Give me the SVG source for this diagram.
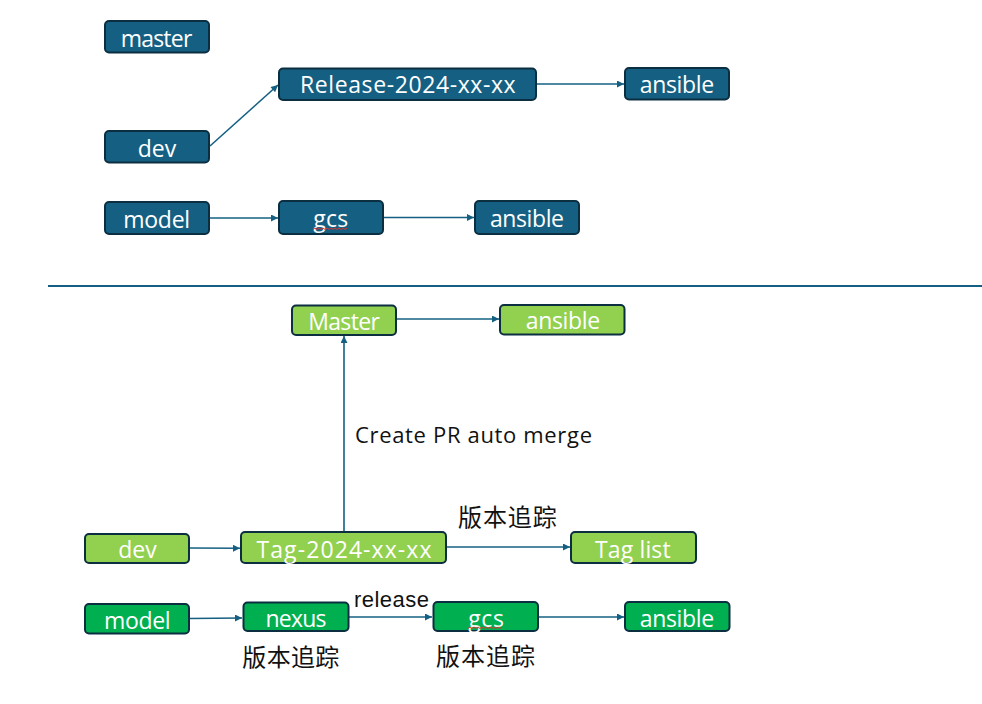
<svg xmlns="http://www.w3.org/2000/svg" width="982" height="704" viewBox="0 0 982 704">
<style>
.n rect{stroke:#0b2f41;stroke-width:2}
.b rect{fill:#156082}
.lg rect{fill:#92d050}
.g rect{fill:#00b050}
.n text{font-family:"Open Sans","Liberation Sans",sans-serif;font-size:23px;fill:#ffffff;text-anchor:middle}
.c line{stroke:#156082;stroke-width:1.6;fill:none}
.lbl{font-family:"Open Sans","Noto Sans CJK SC",sans-serif;font-size:22px;fill:#111111}
.cjk{font-family:"Noto Sans CJK SC",sans-serif;font-size:24px;fill:#111111}
.sq{stroke:#e0302a;stroke-width:1;fill:none}
</style>
<defs>
<marker id="ah" viewBox="0 0 10 10" refX="10" refY="5" markerWidth="8" markerHeight="7" orient="auto" markerUnits="userSpaceOnUse">
<path d="M0,0 L10,5 L0,10 z" fill="#156082"/>
</marker>
</defs>
<rect width="982" height="704" fill="#ffffff"/>
<line x1="48" y1="286" x2="982" y2="286" stroke="#156082" stroke-width="2"/>
<g id="connectors" class="c">
<line x1="210" y1="146" x2="278" y2="85" marker-end="url(#ah)"/>
<line x1="536" y1="84" x2="624" y2="84" marker-end="url(#ah)"/>
<line x1="209" y1="218" x2="278" y2="218" marker-end="url(#ah)"/>
<line x1="383" y1="217.5" x2="474" y2="217.5" marker-end="url(#ah)"/>
<line x1="396" y1="319" x2="499" y2="319" marker-end="url(#ah)"/>
<line x1="344" y1="532" x2="344" y2="336" marker-end="url(#ah)"/>
<line x1="189" y1="548" x2="240" y2="548.3" marker-end="url(#ah)"/>
<line x1="446" y1="547" x2="570" y2="547" marker-end="url(#ah)"/>
<line x1="189" y1="618.5" x2="242" y2="618" marker-end="url(#ah)"/>
<line x1="349" y1="617" x2="432" y2="617" marker-end="url(#ah)"/>
<line x1="538" y1="617" x2="624" y2="617" marker-end="url(#ah)"/>
</g>
<g id="master" class="n b"><rect x="105" y="21" width="104" height="31.5" rx="4"/><text x="156.5" y="46.5" textLength="71.6">master</text></g>
<g id="release" class="n b"><rect x="279" y="68.5" width="257" height="31.5" rx="4"/><text x="407.8" y="93.3" textLength="215.7">Release-2024-xx-xx</text></g>
<g id="ansible1" class="n b"><rect x="625" y="68" width="104" height="31.5" rx="4"/><text x="677" y="93.3" textLength="74.3">ansible</text></g>
<g id="dev1" class="n b"><rect x="105" y="131" width="104" height="31.5" rx="4"/><text x="157" y="156.5" textLength="38.3">dev</text></g>
<g id="model1" class="n b"><rect x="105" y="202" width="104" height="32" rx="4"/><text x="156.7" y="228" textLength="66.7">model</text></g>
<g id="gcs1" class="n b"><rect x="279" y="201" width="104" height="33" rx="4"/><text x="330.8" y="226.7" textLength="35">gcs</text><path class="sq" d="M313,229.5 l2,-1.5 l2,1.5 l2,-1.5 l2,1.5 l2,-1.5 l2,1.5 l2,-1.5 l2,1.5 l2,-1.5 l2,1.5 l2,-1.5 l2,1.5 l2,-1.5 l2,1.5 l2,-1.5 l2,1.5 l2,-1.5"/></g>
<g id="ansible2" class="n b"><rect x="475" y="201" width="104" height="33" rx="4"/><text x="527" y="226.7" textLength="74">ansible</text></g>
<g id="master2" class="n lg"><rect x="292" y="305.5" width="104" height="29.5" rx="4"/><text x="344" y="330" textLength="71.7">Master</text></g>
<g id="ansible3" class="n lg"><rect x="500" y="305" width="124.5" height="29.5" rx="4"/><text x="563" y="328.5" textLength="74.3">ansible</text></g>
<g id="dev2" class="n lg"><rect x="85" y="534" width="104" height="29" rx="4"/><text x="137.5" y="557.7" textLength="38.3">dev</text></g>
<g id="tag" class="n lg"><rect x="241" y="532" width="205" height="31" rx="4"/><text x="344" y="557.7" textLength="175">Tag-2024-xx-xx</text></g>
<g id="taglist" class="n lg"><rect x="571" y="532" width="125" height="31" rx="4"/><text x="632.8" y="557.7" textLength="75.7">Tag list</text></g>
<g id="model2" class="n g"><rect x="85" y="604" width="104" height="29.5" rx="4"/><text x="137.3" y="629" textLength="66.7">model</text></g>
<g id="nexus" class="n g"><rect x="243.5" y="602.5" width="105" height="28.5" rx="4"/><text x="296" y="626.7" textLength="61">nexus</text></g>
<g id="gcs2" class="n g"><rect x="433.5" y="602" width="104.5" height="29" rx="4"/><text x="486" y="626.5" textLength="35.7">gcs</text><path class="sq" d="M468,628.5 l2,-1.5 l2,1.5 l2,-1.5 l2,1.5 l2,-1.5 l2,1.5 l2,-1.5 l2,1.5 l2,-1.5 l2,1.5 l2,-1.5 l2,1.5 l2,-1.5 l2,1.5 l2,-1.5 l2,1.5 l2,-1.5"/></g>
<g id="ansible4" class="n g"><rect x="625" y="602" width="104.5" height="29" rx="4"/><text x="677" y="626.7" textLength="74.3">ansible</text></g>
<g id="labels">
<text class="lbl" x="355" y="443.3" textLength="237">Create PR auto merge</text>
<text class="cjk" x="458" y="525.5" textLength="98.7">版本追踪</text>
<text x="354" y="607" font-family="Liberation Sans, Arial, sans-serif" font-size="22" fill="#111111" textLength="75">release</text>
<text class="cjk" x="242.3" y="666" textLength="97">版本追踪</text>
<text class="cjk" x="436" y="665" textLength="99">版本追踪</text>
</g>
</svg>
